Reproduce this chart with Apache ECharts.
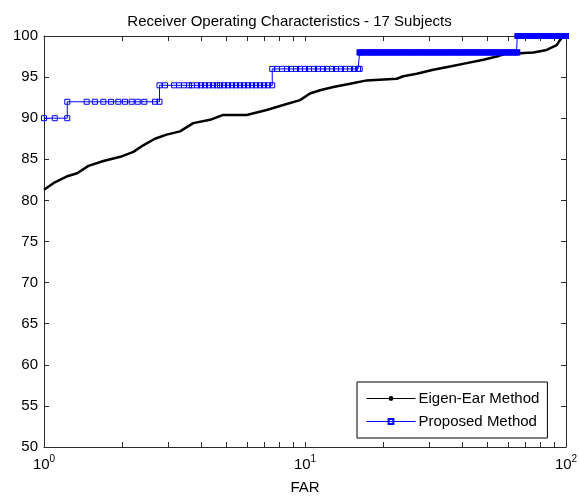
<!DOCTYPE html>
<html>
<head>
<meta charset="utf-8">
<script src="https://cdn.jsdelivr.net/npm/echarts@6/dist/echarts.min.js"></script>
<style>
  html, body { margin: 0; padding: 0; background: #fff; }
  #chart { width: 579px; height: 497px; }
</style>
</head>
<body>
<div id="chart"></div>
<script>
// ---- Data ----
const titleText = 'Receiver Operating Characteristics - 17 Subjects';
const xName = 'FAR';
const seriesNames = ['Eigen-Ear Method', 'Proposed Method'];

// Eigen-Ear Method (black)
const eigenFAR = [1.00, 1.10, 1.22, 1.34, 1.48, 1.69, 1.96, 2.20, 2.40, 2.66, 2.95, 3.32, 3.73, 4.33, 4.86, 5.98, 7.13, 8.26, 9.57, 10.45, 11.42, 12.84, 14.88, 17.24, 22.46, 23.80, 26.79, 31.01, 35.93, 41.65, 48.25, 54.28, 59.27, 66.65, 74.95, 84.33, 92.13, 94.85, 97.7, 100];
const eigenGAR = [81.3, 82.2, 82.9, 83.3, 84.2, 84.8, 85.3, 85.9, 86.7, 87.5, 88.0, 88.4, 89.4, 89.8, 90.4, 90.4, 91.0, 91.6, 92.2, 93.0, 93.4, 93.8, 94.2, 94.6, 94.8, 95.1, 95.4, 95.9, 96.3, 96.7, 97.1, 97.5, 97.9, 97.9, 98.0, 98.3, 98.9, 99.5, 100, 100];

// Proposed Method (blue): GAR levels and the FAR values of the points at each level
const propLevels = [90, 92, 94, 96, 98, 100];
const propFAR90 = [1.00, 1.10, 1.228];
const propFAR92 = [1.228, 1.457, 1.567, 1.688, 1.806, 1.926, 2.043, 2.168, 2.286, 2.423, 2.663, 2.77];
const propFAR94 = [2.77, 2.909, 3.149, 3.290, 3.439, 3.594, 3.690, 3.857, 3.996, 4.139, 4.287, 4.442, 4.601, 4.724, 4.894, 5.070, 5.252, 5.441, 5.636, 5.839, 6.049, 6.266, 6.492, 6.725, 6.966, 7.217, 7.49];
const propFAR96 = [7.49, 7.811, 8.164, 8.531, 8.839, 9.237, 9.568, 10.00, 10.36, 10.83, 11.21, 11.72, 12.14, 12.69, 13.15, 13.74, 14.23, 14.88, 15.41, 15.97, 16.2];
const propFAR98 = [16.2, 16.5, 16.8, 17.1, 17.5, 17.7, 18.0, 18.4, 18.6, 19.0, 19.3, 19.7, 20.0, 20.4, 20.8, 21.1, 21.5, 21.9, 22.3, 22.6, 23.1, 23.5, 23.9, 24.4, 24.8, 25.2, 25.7, 26.1, 26.6, 27.1, 27.6, 28.0, 28.6, 29.1, 29.6, 30.1, 30.7, 31.2, 31.8, 32.4, 32.9, 33.5, 34.2, 34.7, 35.4, 36.0, 36.6, 37.3, 38.0, 38.7, 39.4, 40.0, 40.8, 41.5, 42.3, 43.0, 43.8, 44.6, 45.4, 46.2, 47.1, 47.9, 48.7, 49.6, 50.5, 51.4, 52.3, 53.2, 54.2, 55.2, 56.2, 57.2, 58.3, 59.3, 60.3, 61.4, 62.6, 63.6, 64.6, 65.1];
const propFAR100 = [65.1, 66.3, 67.5, 68.7, 70.0, 71.2, 72.6, 73.9, 75.3, 76.6, 78.0, 79.5, 80.9, 82.4, 83.9, 85.4, 87.0, 88.6, 90.2, 91.8, 93.5, 95.2, 96.9, 98.7, 100];
const propFARByLevel = [propFAR90, propFAR92, propFAR94, propFAR96, propFAR98, propFAR100];

// Axis ticks
const xTickValues = [1, 2, 3, 4, 5, 6, 7, 8, 9, 10, 20, 30, 40, 50, 60, 70, 80, 90, 100];
const xLabelValues = [1, 10, 100];
const yMin = 50, yMax = 100, yStep = 5;

// ---- Build series data ----
const eigenData = eigenFAR.map((f, i) => [f, eigenGAR[i]]);
// sparse part (levels 90..96, plus the step up to 98) and dense part (levels 98, 100)
const propSparse = [];
const propDense = [];
propLevels.forEach((lvl, i) => {
  propFARByLevel[i].forEach(f => (lvl < 98 ? propSparse : propDense).push([f, lvl]));
});
propSparse.push(propDense[0]);

const FONT = '"Liberation Sans", Arial, Helvetica, sans-serif';
const axisColor = '#2b2b2b';
const BLUE = '#0000ff';

const chart = echarts.init(document.getElementById('chart'), null, { renderer: 'canvas' });

const xAxisBase = {
  type: 'log',
  logBase: 10,
  min: 1,
  max: 100,
  splitLine: { show: false },
  axisLine: { show: true, lineStyle: { color: axisColor, width: 1 } },
  axisTick: { show: true, inside: true, length: 5, customValues: xTickValues, lineStyle: { color: axisColor } },
  minorTick: { show: false }
};
const yAxisBase = {
  type: 'value',
  min: yMin,
  max: yMax,
  interval: yStep,
  splitLine: { show: false },
  axisLine: { show: true, lineStyle: { color: axisColor, width: 1 } },
  axisTick: { show: true, inside: true, length: 5, lineStyle: { color: axisColor } }
};

chart.setOption({
  animation: false,
  backgroundColor: '#fff',
  title: {
    text: titleText,
    left: 'center',
    top: 9,
    textStyle: { fontFamily: FONT, fontSize: 15, fontWeight: 'normal', color: '#000' }
  },
  grid: { left: 44, right: 13, top: 36, bottom: 50, containLabel: false, outerBoundsMode: 'none' },
  legend: {
    data: seriesNames,
    orient: 'vertical',
    left: 357,
    top: 382,
    padding: [8, 8, 8, 9],
    itemWidth: 49,
    itemHeight: 6,
    itemGap: 6,
    backgroundColor: '#fff',
    borderColor: '#000',
    borderWidth: 1,
    borderRadius: 0,
    lineStyle: { width: 1 },
    textStyle: { fontFamily: FONT, fontSize: 15, color: '#000', lineHeight: 17, padding: [0, 0, 0, -2] }
  },
  xAxis: [
    Object.assign({}, xAxisBase, {
      position: 'bottom',
      name: xName,
      nameLocation: 'middle',
      nameGap: 33,
      nameTextStyle: { fontFamily: FONT, fontSize: 15, color: '#000' },
      axisLabel: {
        show: true,
        margin: 7,
        customValues: xLabelValues,
        formatter: v => '{b|10}{s|' + Math.round(Math.log10(v)) + '}',
        rich: {
          b: { fontFamily: FONT, fontSize: 15, color: '#000', lineHeight: 18, verticalAlign: 'bottom' },
          s: { fontFamily: FONT, fontSize: 10, color: '#000', lineHeight: 18, verticalAlign: 'top' }
        }
      }
    }),
    Object.assign({}, xAxisBase, {
      position: 'top',
      axisLabel: { show: false }
    })
  ],
  yAxis: [
    Object.assign({}, yAxisBase, {
      position: 'left',
      axisLabel: { show: true, margin: 6, fontFamily: FONT, fontSize: 15, color: '#000' }
    }),
    Object.assign({}, yAxisBase, {
      position: 'right',
      axisLabel: { show: false }
    })
  ],
  series: [
    {
      name: seriesNames[0],
      type: 'line',
      data: eigenData,
      symbol: 'circle',
      symbolSize: 2,
      showSymbol: false,
      color: '#000',
      lineStyle: { color: '#000', width: 2.5 },
      itemStyle: { color: '#000' },
      z: 2
    },
    {
      name: seriesNames[1],
      type: 'line',
      data: propSparse,
      symbol: 'rect',
      symbolSize: 5,
      showSymbol: true,
      showAllSymbol: true,
      clip: false,
      color: BLUE,
      lineStyle: { color: BLUE, width: 1 },
      itemStyle: { color: 'rgba(255,255,255,0)', borderColor: BLUE, borderWidth: 1 },
      z: 3
    },
    {
      name: seriesNames[1],
      type: 'line',
      data: propDense,
      symbol: 'rect',
      symbolSize: 6,
      showSymbol: true,
      showAllSymbol: true,
      clip: false,
      color: BLUE,
      lineStyle: { color: BLUE, width: 1 },
      itemStyle: { color: BLUE, borderColor: BLUE, borderWidth: 0 },
      z: 3
    }
  ]
});
</script>
</body>
</html>
